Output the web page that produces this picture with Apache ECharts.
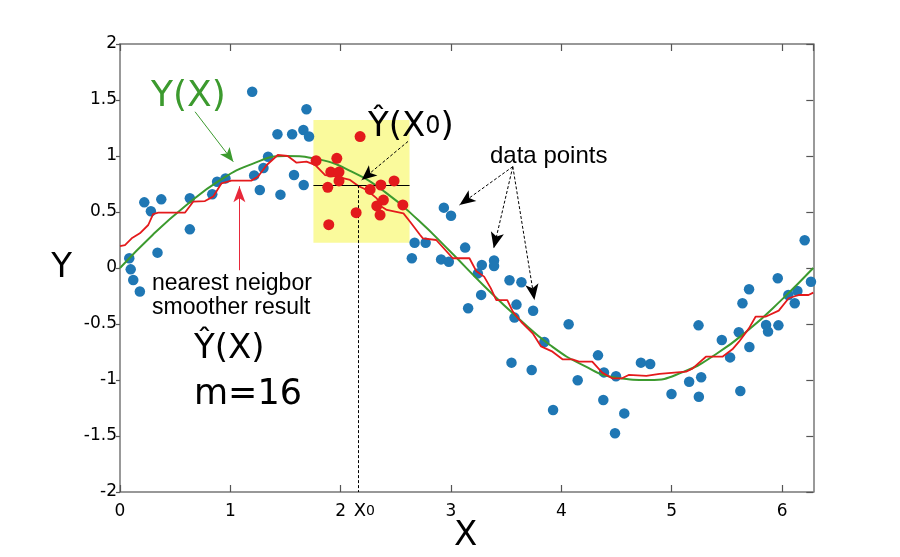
<!DOCTYPE html>
<html>
<head>
<meta charset="utf-8">
<script src="https://cdn.jsdelivr.net/npm/echarts/dist/echarts.min.js"></script>
<style>
  html, body { margin: 0; padding: 0; background: #fff; }
  #main { width: 900px; height: 557px; }
</style>
</head>
<body>
<div id="main"></div>
<script>
// noisy samples (blue)
const pointX = [0.084, 0.097, 0.12, 0.18, 0.22, 0.28, 0.34, 0.374, 0.633, 0.633, 0.836, 0.88, 0.956,
  1.198, 1.216, 1.267, 1.30, 1.342, 1.427, 1.454, 1.56, 1.577, 1.662, 1.665, 1.69, 1.713,
  2.645, 2.67, 2.77, 2.91, 2.935, 2.98, 3.0, 3.128, 3.155, 3.243, 3.279, 3.273, 3.39, 3.39,
  3.53, 3.638, 3.593, 3.575, 3.744, 3.548, 3.731, 3.846, 3.925, 4.066, 4.148, 4.332, 4.386,
  4.38, 4.495, 4.486, 4.57, 4.721, 4.805, 4.998, 5.158, 5.243, 5.267, 5.246, 5.454, 5.529,
  5.608, 5.622, 5.641, 5.701, 5.704, 5.855, 5.873, 5.967, 5.961, 6.057, 6.115, 6.139, 6.205, 6.262];
const pointY = [0.087, -0.012, -0.107, -0.21, 0.586, 0.506, 0.137, 0.613, 0.622, 0.345, 0.658, 0.77, 0.80,
  1.574, 0.827, 0.696, 0.893, 0.994, 1.194, 0.655, 1.194, 0.83, 1.232, 0.741, 1.417, 1.174,
  0.087, 0.226, 0.226, 0.077, 0.539, 0.056, 0.467, 0.182, -0.36, -0.048, 0.027, -0.24, 0.068, 0.018,
  -0.11, -0.128, -0.327, -0.443, -0.381, -0.845, -0.911, -0.661, -1.268, -0.503, -1.003, -0.78, -0.932,
  -1.179, -0.967, -1.476, -1.298, -0.845, -0.857, -1.125, -1.015, -0.512, -0.976, -1.149, -0.643, -0.798,
  -0.574, -1.098, -0.315, -0.19, -0.705, -0.509, -0.568, -0.512, -0.092, -0.241, -0.315, -0.205, 0.247, -0.122];

// the 16 nearest neighbours of X0 (red)
const nearX = [1.777, 1.965, 1.91, 1.985, 1.985, 1.883, 2.176, 2.267, 2.364, 2.484, 2.387, 2.327, 2.357, 2.563, 2.14, 1.892];
const nearY = [0.958, 0.979, 0.857, 0.857, 0.777, 0.72, 1.173, 0.702, 0.741, 0.777, 0.607, 0.554, 0.473, 0.563, 0.494, 0.387];

// true function Y(X) (green)
const trueX = [0, 0.3, 0.6, 0.9, 1.2, 1.5, 1.8, 2.1, 2.4, 2.7, 3.0, 3.3, 3.6, 3.9, 4.2, 4.5, 4.8, 5.1, 5.4, 5.7, 6.0, 6.283];
const trueY = [0, 0.3, 0.56, 0.78, 0.93, 1.0, 0.97, 0.86, 0.68, 0.43, 0.14, -0.16, -0.44, -0.69, -0.87, -0.98, -1.0, -0.93, -0.77, -0.55, -0.28, 0];

// nearest neighbour smoother result (red line)
const fitX = [0, 0.045, 0.106, 0.18, 0.256, 0.30, 0.347, 0.588, 0.663, 0.77, 0.844, 0.92, 1.01, 1.19, 1.25, 1.33,
  1.43, 1.52, 1.6, 1.69, 1.768, 1.859, 1.964, 2.085, 2.16, 2.237, 2.327, 2.372, 2.418, 2.569, 2.629, 2.72,
  2.745, 2.866, 3.016, 3.167, 3.23, 3.30, 3.36, 3.41, 3.51, 3.56, 3.635, 3.74, 3.816, 3.92, 4.01, 4.10,
  4.16, 4.28, 4.37, 4.46, 4.55, 4.61, 4.77, 4.89, 5.13, 5.19, 5.31, 5.46, 5.55, 5.61, 5.70, 5.76, 5.85,
  5.97, 6.06, 6.15, 6.24, 6.283];
const fitY = [0.196, 0.205, 0.265, 0.31, 0.384, 0.482, 0.494, 0.494, 0.592, 0.598, 0.637, 0.756, 0.78, 0.78, 0.815, 0.92,
  1.009, 1.0, 0.94, 0.95, 0.92, 0.83, 0.815, 0.786, 0.732, 0.696, 0.622, 0.547, 0.518, 0.488, 0.413, 0.295,
  0.265, 0.25, 0.087, 0.087, -0.03, -0.077, -0.18, -0.286, -0.286, -0.39, -0.48, -0.583, -0.70, -0.747, -0.815, -0.815,
  -0.836, -0.836, -0.934, -0.985, -0.985, -0.955, -0.964, -0.946, -0.926, -0.896, -0.792, -0.792, -0.726, -0.658, -0.539, -0.435, -0.435,
  -0.381, -0.27, -0.241, -0.241, -0.22];

const xTicks = [0, 1, 2, 3, 4, 5, 6];
const xMax = 6.2832;
const yMin = -2, yMax = 2, yStep = 0.5;

// query point and its neighbourhood window
const x0 = 2.155;
const yHat0 = 0.74;
const windowX = [1.753, 2.624];
const windowY = [0.226, 1.321];

const zip = (xs, ys) => xs.map((x, i) => [x, ys[i]]);

const FONT = 'DejaVu Sans';
const LABEL_FONT = 'Liberation Sans';

const chart = echarts.init(document.getElementById('main'));

const frameLine = { show: true, onZero: false, lineStyle: { color: '#777', width: 1.5 } };
const tickStyle = { color: '#555', width: 1.2 };

function arrow(from, to, color, dashed, size) {
  return [
    { coord: from, symbol: 'none', lineStyle: { color: color, width: 1, type: dashed ? [3, 2] : 'solid' } },
    { coord: to, symbol: 'arrow', symbolSize: size, itemStyle: { color: color } }
  ];
}

chart.setOption({
  animation: false,
  // fixed plot box, don't let labels push it around
  grid: { left: 120, right: 86.7, top: 44, bottom: 65, containLabel: false, outerBoundsMode: 'none' },
  xAxis: [{
    type: 'value', min: 0, max: xMax, interval: 1, position: 'bottom',
    axisLine: frameLine,
    axisTick: { show: true, inside: true, length: 7, lineStyle: tickStyle },
    axisLabel: {
      color: '#000', fontFamily: FONT, fontSize: 17, margin: 11, showMaxLabel: false,
      formatter: v => xTicks.indexOf(v) >= 0 ? String(v) : ''
    },
    splitLine: { show: false }
  }, {
    type: 'value', min: 0, max: xMax, interval: 1, position: 'top',
    axisLine: frameLine,
    axisTick: { show: true, inside: true, length: 7, lineStyle: tickStyle },
    axisLabel: { show: false },
    splitLine: { show: false }
  }],
  yAxis: [{
    type: 'value', min: yMin, max: yMax, interval: yStep, position: 'left',
    axisLine: frameLine,
    axisTick: { show: true, inside: false, length: 4, lineStyle: tickStyle },
    axisLabel: { color: '#000', fontFamily: FONT, fontSize: 17, margin: 3, padding: [5, 0, 0, 0] },
    splitLine: { show: false },
    name: 'Y', nameLocation: 'middle', nameGap: 48, nameRotate: 0,
    nameTextStyle: { color: '#000', fontFamily: FONT, fontSize: 34 }
  }, {
    type: 'value', min: yMin, max: yMax, interval: yStep, position: 'right',
    axisLine: frameLine,
    axisTick: { show: true, inside: true, length: 7, lineStyle: tickStyle },
    axisLabel: { show: false },
    splitLine: { show: false }
  }],
  series: [
    {
      // blue data points
      type: 'scatter', z: 2, symbolSize: 10.5,
      itemStyle: { color: '#1f77b4', opacity: 1 },
      data: zip(pointX, pointY),
      // neighbourhood window behind everything
      markArea: {
        silent: true,
        itemStyle: { color: '#fafa9c', opacity: 1 },
        data: [[{ coord: [windowX[0], windowY[1]] }, { coord: [windowX[1], windowY[0]] }]]
      }
    },
    {
      type: 'line', z: 3, smooth: true, showSymbol: false, symbol: 'none',
      lineStyle: { color: '#3c9a2e', width: 2 },
      data: zip(trueX, trueY)
    },
    {
      type: 'line', z: 4, showSymbol: false, symbol: 'none',
      lineStyle: { color: '#e41a1c', width: 1.8 },
      data: zip(fitX, fitY)
    },
    {
      type: 'scatter', z: 5, symbolSize: 11,
      itemStyle: { color: '#e31a1c', opacity: 1 },
      data: zip(nearX, nearY)
    },
    {
      // reference lines and arrows
      type: 'line', data: [], z: 6,
      markLine: {
        silent: true,
        symbolSize: [9, 14],
        label: { show: false },
        emphasis: { disabled: true },
        data: [
          [{ coord: [windowX[0], yHat0], symbol: 'none', lineStyle: { color: '#000', width: 1, type: 'solid' } },
           { coord: [windowX[1], yHat0], symbol: 'none' }],
          [{ coord: [x0, yHat0], symbol: 'none', lineStyle: { color: '#000', width: 1, type: [3, 2] } },
           { coord: [x0, yMin], symbol: 'none' }],
          arrow([0.68, 1.395], [1.027, 0.949], '#3c9a2e', false, [9, 14]),
          arrow([1.082, -0.02], [1.082, 0.73], '#e8283a', false, [9, 16]),
          arrow([2.61, 1.13], [2.19, 0.785], '#000', true, [10, 15]),
          arrow([3.56, 0.905], [3.077, 0.5625], '#000', true, [10, 16]),
          arrow([3.56, 0.905], [3.387, 0.176], '#000', true, [10, 16]),
          arrow([3.56, 0.905], [3.756, -0.286], '#000', true, [10, 16])
        ]
      }
    }
  ]
});

// annotation texts
const x0px = chart.convertToPixel({ xAxisIndex: 0 }, x0);
const midPx = chart.convertToPixel({ xAxisIndex: 0 }, xMax / 2);
const bottomPx = chart.convertToPixel({ yAxisIndex: 0 }, yMin);

function label(text, x, y, size, color, family, align) {
  return {
    type: 'text', silent: true, z: 100,
    style: {
      text: text, x: x, y: y, fill: color,
      font: size + 'px "' + family + '"',
      align: align || 'left', verticalAlign: 'middle',
      textAlign: align || 'left', textVerticalAlign: 'middle'
    }
  };
}

chart.setOption({
  graphic: [
    // x axis title
    label('X', midPx - 1, bottomPx + 44, 34, '#000', FONT, 'center'),
    label('Y(X)', 151, 97, 36, '#3c9a2e', FONT),
    {
      type: 'text', silent: true, z: 100,
      style: {
        text: '{a|Ŷ(X}{b|0}{a|)}', x: 368, y: 127,
        align: 'left', verticalAlign: 'middle', textAlign: 'left', textVerticalAlign: 'middle',
        rich: {
          a: { fontFamily: FONT, fontSize: 34, fill: '#000', color: '#000' },
          b: { fontFamily: FONT, fontSize: 24, fill: '#000', color: '#000' }
        }
      }
    },
    label('data points', 490, 156, 24, '#000', LABEL_FONT),
    label('nearest neigbor', 152, 284, 23, '#000', LABEL_FONT),
    label('smoother result', 152, 308, 23, '#000', LABEL_FONT),
    label('Ŷ(X)', 194, 349, 34, '#000', FONT),
    label('m=16', 194, 395, 35, '#000', FONT),
    {
      type: 'text', silent: true, z: 100,
      style: {
        text: '{a|X}{b|0}', x: x0px - 4, y: bottomPx + 19,
        align: 'left', verticalAlign: 'middle', textAlign: 'left', textVerticalAlign: 'middle',
        rich: {
          a: { fontFamily: FONT, fontSize: 18, fill: '#000', color: '#000' },
          b: { fontFamily: FONT, fontSize: 14, fill: '#000', color: '#000' }
        }
      }
    }
  ]
});
</script>
</body>
</html>
